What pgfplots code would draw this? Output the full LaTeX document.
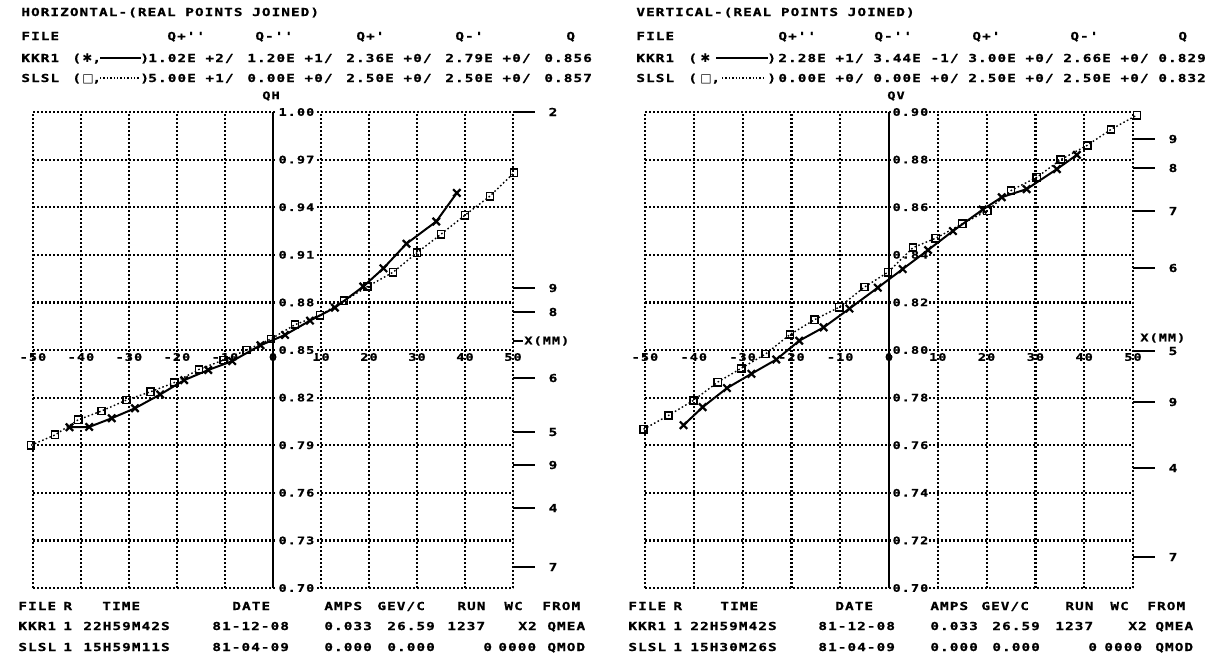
\documentclass[border=0pt]{standalone}
\usepackage{pgfplots}
\pgfplotsset{compat=1.18}
\usepackage{fontspec}
\newfontfamily\pf[UprightFont={* Bold},FakeStretch=1.3,LetterSpace=10,FakeBold=1,Ligatures=TeXOff]{DejaVu Sans Mono}
\newfontfamily\sym{DejaVu Sans}
\newcommand\hf{\pf\fontsize{5.5pt}{6pt}\selectfont}
\newcommand\tf{\pf\fontsize{5.2pt}{6pt}\selectfont}
\newcommand\T[3]{\node[anchor=base west,inner sep=0pt,font=\hf] at (#1,#2) {#3};}
\newcommand\Sym[3]{\node[anchor=base west,inner sep=0pt,font=\sym\fontsize{6pt}{7pt}\selectfont\bfseries] at (#1,#2) {#3};}

\pgfplotstableread{
x y
-50.4 0.790
-45.4 0.7965
-40.6 0.806
-35.7 0.8116
-30.5 0.8185
-25.5 0.8237
-20.6 0.8294
-15.4 0.8378
-10.3 0.8437
-5.5 0.850
-0.4 0.857
4.6 0.866
9.8 0.872
14.8 0.881
19.7 0.890
25.0 0.899
30.0 0.9113
35.0 0.923
40.0 0.935
45.2 0.947
50.2 0.9617
}\hslsl
\pgfplotstableread{
x y
-42.4 0.8013
-38.3 0.8015
-33.6 0.807
-28.75 0.8133
-23.5 0.822
-18.5 0.831
-13.5 0.8374
-8.5 0.843
-2.6 0.853
2.5 0.8595
7.7 0.8685
12.9 0.8767
18.8 0.890
23.0 0.9015
27.8 0.917
34.0 0.931
38.3 0.949
}\hkkr
\pgfplotstableread{
x y
-50.3 0.7667
-45.2 0.7725
-40.1 0.7788
-35.1 0.7865
-30.3 0.7923
-25.3 0.7983
-20.3 0.8065
-15.3 0.8127
-10.2 0.818
-5.0 0.8265
-0.2 0.8327
4.9 0.843
9.6 0.847
15.0 0.853
20.1 0.8585
25.0 0.867
30.3 0.8726
35.2 0.880
40.6 0.886
45.5 0.8927
50.8 0.8987
}\vslsl
\pgfplotstableread{
x y
-42.1 0.7684
-38.2 0.776
-33.2 0.784
-28.2 0.790
-23.1 0.796
-18.4 0.8039
-13.4 0.8095
-8.1 0.8174
-2.3 0.8262
2.8 0.834
8.0 0.842
13.1 0.850
19.2 0.859
23.1 0.8642
28.2 0.8676
34.4 0.876
38.5 0.882
}\vkkr

\pgfplotsset{
  qplot/.style={
    scale only axis, height=238pt, clip=false,
    xmin=-50, xmax=50, xtick={-50,-40,...,50},
    grid=major, major tick length=0pt,
    axis line style={draw=none},
    major grid style={black, line width=1.1pt, dash pattern=on 0.9pt off 1.1pt},
    /pgf/number format/assume math mode=true,
    xticklabel style={font=\tf, anchor=center, inner sep=0pt, yshift=115.5pt},
    yticklabel pos=right,
    yticklabel style={font=\tf, anchor=west, inner sep=0.6pt, fill=white,
      /pgf/number format/fixed, /pgf/number format/fixed zerofill,
      /pgf/number format/precision=2},
  },
  slsl/.style={black, line width=0.7pt, dash pattern=on 0.8pt off 1.2pt,
    mark=square, mark size=1.8pt, mark options={solid, line width=0.8pt}},
  kkr/.style={black, line width=1pt, mark=x, mark size=2.6pt,
    mark options={solid, line width=1.1pt}},
}

\begin{document}
\begin{tikzpicture}
\begin{scope}[x=0.5pt,y=-0.5pt]
\path[use as bounding box] (0,0) rectangle (1221,660);
\end{scope}

% ---------------- left: horizontal
\begin{axis}[qplot, at={(16.5pt,-294pt)}, anchor=south west, width=240pt,
  ymin=0.70, ymax=1.00,
  ytick={0.70,0.73,0.76,0.79,0.82,0.85,0.88,0.91,0.94,0.97,1.00},
  yticklabel style={xshift=-118pt}]
\draw[black, line width=0.9pt] (axis cs:0,0.70) -- (axis cs:0,1.00);
\addplot[slsl] table[x=x,y=y] {\hslsl};
\addplot[kkr] table[x=x,y=y] {\hkkr};
\end{axis}

% ---------------- right: vertical
\begin{axis}[qplot, at={(322.5pt,-294pt)}, anchor=south west, width=244pt,
  ymin=0.70, ymax=0.90,
  ytick={0.70,0.72,0.74,0.76,0.78,0.80,0.82,0.84,0.86,0.88,0.90},
  yticklabel style={xshift=-121pt}]
\draw[black, line width=0.9pt] (axis cs:0,0.70) -- (axis cs:0,0.90);
\addplot[slsl] table[x=x,y=y] {\vslsl};
\addplot[kkr] table[x=x,y=y] {\vkkr};
\end{axis}

\begin{scope}[x=0.5pt,y=-0.5pt]
% side marks
\foreach \y/\l in {112/2,288/9,312/8,378/6,432/5,465/9,508/4,567/7}{
  \draw[line width=0.9pt] (513,\y) -- (535,\y);
  \node[font=\hf, inner sep=0pt] at (553,\y) {\l};}
\foreach \y/\l in {139/9,168/8,211/7,268/6,351/5,402/9,468/4,557/7}{
  \draw[line width=0.9pt] (1133,\y) -- (1155,\y);
  \node[font=\hf, inner sep=0pt] at (1173,\y) {\l};}
\draw[line width=0.9pt] (513,341) -- (523,341);
\node[font=\tf, anchor=west, inner sep=0pt] at (524,341) {X(MM)};
\node[font=\tf, anchor=west, inner sep=0pt] at (1140,338) {X(MM)};
\node[font=\tf, inner sep=0pt] at (271,96) {QH};
\node[font=\tf, inner sep=0pt] at (896,96) {QV};

% headers left
\T{21}{16}{HORIZONTAL-(REAL POINTS JOINED)}
\T{21}{40}{FILE}\T{167}{40}{Q+''}\T{255}{40}{Q-''}\T{356}{40}{Q+'}\T{455}{40}{Q-'}\T{566}{40}{Q}
\T{21}{62}{KKR1}\T{72}{62}{(}\Sym{82}{62}{✱}\T{92}{62}{,}
\draw[line width=0.9pt] (100,58) -- (141,58);
\T{140}{62}{)}
\T{148}{62}{1.02E +2/}\T{247}{62}{1.20E +1/}\T{346}{62}{2.36E +0/}\T{445}{62}{2.79E +0/}\T{544}{62}{0.856}
\T{21}{82}{SLSL}\T{72}{82}{(}\Sym{82}{82}{□}\T{92}{82}{,}
\draw[line width=0.9pt, dash pattern=on 0.7pt off 1.0pt] (100,78) -- (139,78);
\T{140}{82}{)}
\T{148}{82}{5.00E +1/}\T{247}{82}{0.00E +0/}\T{346}{82}{2.50E +0/}\T{445}{82}{2.50E +0/}\T{544}{82}{0.857}
% headers right
\T{636}{16}{VERTICAL-(REAL POINTS JOINED)}
\T{636}{40}{FILE}\T{778}{40}{Q+''}\T{874}{40}{Q-''}\T{972}{40}{Q+'}\T{1070}{40}{Q-'}\T{1178}{40}{Q}
\T{636}{62}{KKR1}\T{688}{62}{(}\Sym{700}{62}{✱}
\draw[line width=0.9pt] (716,58) -- (768,58);
\T{767}{62}{)}
\T{778}{62}{2.28E +1/}\T{873}{62}{3.44E -1/}\T{968}{62}{3.00E +0/}\T{1063}{62}{2.66E +0/}\T{1158}{62}{0.829}
\T{636}{82}{SLSL}\T{688}{82}{(}\Sym{700}{82}{□}\T{711}{82}{,}
\draw[line width=0.9pt, dash pattern=on 0.7pt off 1.0pt] (722,78) -- (765,78);
\T{767}{82}{)}
\T{778}{82}{0.00E +0/}\T{873}{82}{0.00E +0/}\T{968}{82}{2.50E +0/}\T{1063}{82}{2.50E +0/}\T{1158}{82}{0.832}

% footers left
\T{18}{610}{FILE}\T{63}{610}{R}\T{102}{610}{TIME}\T{232}{610}{DATE}\T{324}{610}{AMPS}\T{377}{610}{GEV/C}\T{457}{610}{RUN}\T{504}{610}{WC}\T{542}{610}{FROM}
\T{18}{630}{KKR1}\T{63}{630}{1}\T{83}{630}{22H59M42S}\T{212}{630}{81-12-08}\T{324}{630}{0.033}\T{387}{630}{26.59}\T{447}{630}{1237}\T{518}{630}{X2}\T{547}{630}{QMEA}
\T{18}{651}{SLSL}\T{63}{651}{1}\T{83}{651}{15H59M11S}\T{212}{651}{81-04-09}\T{324}{651}{0.000}\T{387}{651}{0.000}\T{483}{651}{0}\T{498}{651}{0000}\T{547}{651}{QMOD}
% footers right
\T{628}{610}{FILE}\T{673}{610}{R}\T{720}{610}{TIME}\T{835}{610}{DATE}\T{930}{610}{AMPS}\T{981}{610}{GEV/C}\T{1065}{610}{RUN}\T{1110}{610}{WC}\T{1147}{610}{FROM}
\T{628}{630}{KKR1}\T{673}{630}{1}\T{690}{630}{22H59M42S}\T{818}{630}{81-12-08}\T{930}{630}{0.033}\T{992}{630}{26.59}\T{1055}{630}{1237}\T{1128}{630}{X2}\T{1155}{630}{QMEA}
\T{628}{651}{SLSL}\T{673}{651}{1}\T{690}{651}{15H30M26S}\T{818}{651}{81-04-09}\T{930}{651}{0.000}\T{992}{651}{0.000}\T{1088}{651}{0}\T{1104}{651}{0000}\T{1155}{651}{QMOD}
\end{scope}
\end{tikzpicture}
\end{document}
